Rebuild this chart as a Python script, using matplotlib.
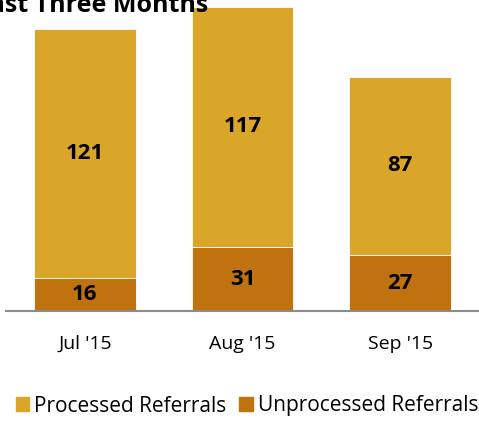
import matplotlib
matplotlib.use('Agg')
import matplotlib.pyplot as plt
from matplotlib.patches import Patch

months = ["Jul '15", "Aug '15", "Sep '15"]
unprocessed = [16, 31, 27]
processed = [121, 117, 87]

C_PROC = '#DAA62A'
C_UNPROC = '#C0720E'

plt.rcParams['font.family'] = ['Open Sans', 'DejaVu Sans']

W, H = 479, 421
fig = plt.figure(figsize=(W / 100, H / 100), dpi=100)

# axes: x from 6 to 479 px, baseline at y=311 px from top
ax_bottom = (H - 311) / H
px_per_unit = 2.057
ymax = 150
ax_h = ymax * px_per_unit / H
ax = fig.add_axes([6 / W, ax_bottom, 473 / W, ax_h])

x = list(range(len(months)))
ax.bar(x, unprocessed, width=0.645, color=C_UNPROC, edgecolor='white', linewidth=0.6)
ax.bar(x, processed, width=0.645, bottom=unprocessed, color=C_PROC, edgecolor='white', linewidth=0.6)

for i in x:
    ax.text(i, unprocessed[i] / 2, str(unprocessed[i]), ha='center', va='center',
            fontsize=16, fontweight='bold', color='black')
    ax.text(i, unprocessed[i] + processed[i] / 2, str(processed[i]), ha='center', va='center',
            fontsize=16, fontweight='bold', color='black')

ax.set_xlim(-0.5, 2.5)
ax.set_ylim(0, ymax)
ax.set_xticks(x)
ax.set_xticklabels(months, fontsize=14)
ax.tick_params(axis='x', length=0, pad=17)
ax.set_yticks([])
for s in ['top', 'right', 'left']:
    ax.spines[s].set_visible(False)
ax.spines['bottom'].set_color('#8C8C8C')
ax.spines['bottom'].set_linewidth(1.5)

# title is cropped at the top-left in the original chart
fig.text(208 / W, 1 - 12 / H, 'Referrals Past Three Months', ha='right', va='baseline',
         fontsize=18, fontweight='bold')

handles = [Patch(color=C_PROC, label='Processed Referrals'),
           Patch(color=C_UNPROC, label='Unprocessed Referrals')]
fig.legend(handles=handles, loc='center', bbox_to_anchor=(247 / W, 1 - 406 / H), ncol=2,
           frameon=False, fontsize=15, handlelength=0.65, handleheight=0.65,
           handletextpad=0.24, columnspacing=0.62, borderpad=0, borderaxespad=0)

fig.savefig('out.png', dpi=100)
